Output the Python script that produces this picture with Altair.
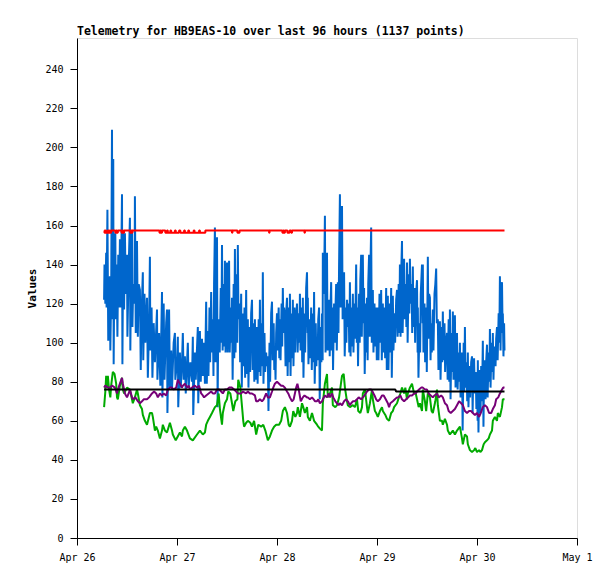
import altair as alt
import pandas as pd

TITLE = "Telemetry for HB9EAS-10 over last 96 hours (1137 points)"
BASE = pd.Timestamp("2023-04-26T00:00:00")

# hours since Apr 26 00:00 and values
blue_hours = [
 6.5,6.6,6.8,7.0,7.1,7.3,7.5,7.7,7.9,8.0,8.2,8.4,8.5,8.7,8.8,9.0,9.2,9.3,9.5,9.7,9.9,10.1,10.3,10.5,10.8,10.9,
 11.1,11.3,11.5,11.7,12.0,12.1,12.4,12.7,12.8,13.0,13.2,13.3,13.5,13.8,13.9,14.1,14.4,14.6,14.8,15.1,15.3,15.5,
 15.8,15.9,16.2,16.4,16.8,17.0,17.3,17.5,17.6,17.9,18.1,18.4,18.7,19.2,19.3,19.7,20.0,20.4,20.5,20.8,21.0,21.4,
 21.6,21.7,22.1,22.3,22.6,22.8,23.2,23.5,23.6,24.0,24.2,24.3,24.7,24.9,25.2,25.4,25.6,25.9,26.1,26.6,26.8,27.2,
 27.6,27.8,27.9,28.3,28.5,29.0,29.1,29.5,29.7,30.0,30.2,30.5,30.7,
 31.0,31.15,31.4,31.55,31.8,31.95,32.2,32.35,32.6,32.75,32.9,33.1,33.25,33.4,33.6,33.75,33.9,34.1,34.25,34.5,
 34.65,34.8,34.95,35.2,35.35,35.5,35.65,35.8,36.0,36.15,36.3,36.5,36.65,36.9,37.05,37.2,37.35,37.6,37.75,37.9,
 38.05,38.3,38.45,38.6,38.75,39.0,39.15,39.4,39.55,39.8,39.95,40.2,40.35,40.6,40.75,41.0,41.15,41.4,41.55,41.8,
 42.0,42.15,42.4,42.55,42.7,42.85,43.0,43.2,43.35,43.6,43.75,43.9,44.05,44.3,44.45,44.6,44.75,45.0,45.15,45.4,
 45.55,45.8,45.95,46.2,46.35,46.6,46.8,46.95,47.2,47.35,47.5,47.65,47.8,48.0,48.15,48.4,48.55,48.7,48.85,49.1,
 49.25,49.4,49.55,49.7,49.9,50.05,50.2,50.4,50.55,50.8,50.95,51.1,51.25,51.5,51.65,51.8,51.95,52.2,52.35,52.5,
 52.8,52.95,53.2,53.35,53.5,53.65,53.9,54.05,54.2,54.35,
 54.6,54.75,55.0,55.2,55.35,55.4,55.55,55.8,55.95,56.2,56.35,56.6,56.75,56.9,57.05,57.3,57.45,57.6,57.75,57.9,
 58.1,58.25,58.5,58.65,58.8,58.95,59.0,59.15,59.3,59.5,59.65,59.8,60.0,60.15,60.3,60.5,60.65,60.8,61.0,61.15,
 61.3,61.45,61.7,61.85,62.0,62.2,62.35,62.6,62.75,62.9,63.1,63.25,63.4,63.6,63.75,63.9,64.1,64.25,64.5,64.65,
 64.8,64.95,65.2,65.35,65.5,65.65,65.9,66.05,66.2,66.35,66.6,66.75,67.0,67.15,67.3,67.45,67.7,67.85,68.0,68.2,
 68.35,68.6,68.75,68.9,69.05,69.3,69.45,69.6,69.75,69.9,70.1,70.25,70.4,70.6,70.75,71.0,71.15,71.4,71.55,71.8,
 71.95,72.2,72.35,72.6,72.75,73.0,73.15,73.4,73.55,73.8,73.95,74.2,74.35,74.6,74.75,75.0,75.15,75.4,75.55,75.8,
 75.95,76.2,76.35,76.6,76.8,76.95,77.2,77.35,77.5,77.65,77.8,78.0,78.15,
 78.5,78.65,78.9,79.05,79.2,79.35,79.6,79.75,79.9,80.05,80.3,80.45,80.6,80.75,81.0,81.15,81.3,81.6,81.75,81.8,
 81.95,82.2,82.35,82.5,82.8,82.95,83.0,83.15,83.4,83.55,83.8,83.95,84.2,84.35,84.5,84.7,84.85,85.0,85.15,85.4,
 85.55,85.8,86.0,86.2,86.35,86.6,86.75,86.9,87.1,87.25,87.5,87.65,87.8,87.95,88.2,88.35,88.6,88.8,88.95,89.2,
 89.35,89.5,89.65,89.9,90.05,90.2,90.35,90.5,90.7,90.85,91.0,91.2,91.35,91.6,91.75,91.9,92.05,92.2,92.4,92.55,
 92.8,92.95,93.1,93.25,93.5,93.65,93.8,93.95,94.2,94.35,94.6,94.8,94.95,95.1,95.3,95.45,95.7,95.85,96.0,96.15,
 96.2,96.35,96.5,96.7,96.85,97.0,97.2,97.4,97.55,97.7,97.9,98.05,98.2,98.4,98.55,98.8,98.95,99.1,99.25,99.5,
 99.65,99.8,99.95,100.1,100.3,100.45,100.6,100.8,100.95,101.2,101.35,101.5,101.65,101.8,102.0,102.15,102.2,
 102.35,102.5,102.6]
blue_values = [
 122,140,120,146,118,168,101,130,134,96,125,209,112,194,89,150,156,112,140,103,145,118,153,118,176,89,
 157,117,156,125,145,103,138,164,96,140,157,108,130,120,175,105,152,103,130,127,86,115,
 136,91,125,100,123,82,110,144,96,118,82,110,90,117,81,105,78,126,72,120,81,110,
 117,64,117,77,96,76,100,105,81,90,103,67,95,77,90,105,81,93,74,100,77,90,
 80,103,63,95,81,108,69,106,80,102,83,100,79,
 121,79,106,83,118,90,126,95,112,83,130,159,90,120,154,67,108,112,95,128,
 100,150,96,130,98,142,95,120,141,95,125,142,95,118,100,123,81,130,92,148,
 95,135,100,150,112,120,90,125,77,115,88,118,82,127,84,112,77,108,85,115,
 122,86,110,80,112,81,100,108,79,112,85,122,83,110,88,136,79,105,85,95,
 88,93,65,100,80,115,121,91,110,86,96,81,105,115,96,118,92,112,91,120,
 98,128,105,118,112,88,115,123,83,118,90,125,83,115,92,122,88,118,95,110,
 120,95,115,100,125,96,118,90,123,82,
 115,95,128,136,105,123,89,112,92,118,86,115,90,126,79,110,88,103,91,112,
 118,71,108,90,115,91,146,125,130,165,95,125,146,96,118,122,93,115,131,96,
 118,86,120,100,115,130,96,131,105,140,176,118,135,170,112,128,136,93,118,100,
 122,108,120,95,131,93,118,98,125,95,120,102,140,100,118,88,125,100,132,145,
 103,145,110,128,84,120,95,123,91,130,145,103,135,159,100,127,95,120,98,118,
 91,118,91,125,100,127,91,120,95,118,92,128,86,124,86,120,95,128,82,124,
 96,115,100,122,127,103,130,105,140,103,135,152,105,
 143,112,130,108,141,100,135,115,143,120,130,105,139,108,128,100,122,132,95,118,
 82,110,95,125,140,110,140,95,120,90,118,85,144,102,125,123,91,110,95,117,
 96,125,130,138,110,112,86,105,111,81,108,90,116,91,110,85,100,105,81,112,
 80,117,71,105,85,116,81,100,114,77,98,105,76,95,80,100,72,90,95,55,
 100,75,108,77,90,70,95,67,88,72,90,93,64,85,92,74,85,66,83,60,
 91,54,80,86,64,88,70,101,57,85,91,71,90,99,72,95,80,107,77,100,
 85,105,81,95,98,88,102,108,91,115,100,134,96,120,131,105,115,
 93,110,96]

green_hours = [
 6.5,6.8,7.0,7.2,7.4,7.7,8.0,8.2,8.6,9.0,9.4,9.6,9.8,10.3,10.8,11.0,11.3,12.0,12.7,13.4,13.9,14.4,14.6,15.1,
 15.6,15.8,16.3,16.8,17.5,18.0,18.2,18.7,19.0,19.4,19.9,20.4,20.6,21.1,21.6,22.3,22.8,23.0,23.7,24.7,25.2,25.4,
 25.9,26.4,27.1,27.8,28.8,29.5,30.2,30.7,31.0,31.4,31.9,32.4,33.1,33.6,34.0,34.3,34.8,35.0,35.5,36.0,36.3,36.8,
 37.2,37.5,38.0,38.5,38.7,39.2,39.7,39.9,40.1,40.6,41.0,41.6,42.0,42.5,43.0,43.2,43.5,44.2,44.7,45.2,45.8,46.3,
 46.8,47.3,47.8,48.5,49.0,49.4,49.9,50.4,50.8,51.1,51.6,51.9,52.4,52.8,53.0,53.5,54.0,54.3,54.7,55.2,55.4,55.9,
 56.4,56.9,57.6,57.9,58.3,58.8,59.0,59.5,60.0,60.2,60.7,61.2,61.4,62.0,62.4,62.9,63.6,64.0,64.3,64.8,65.0,65.5,
 66.2,66.7,67.2,67.5,68.0,68.4,68.6,69.1,69.6,69.8,70.3,70.8,71.0,71.5,71.8,72.2,72.7,73.2,73.4,74.0,74.4,74.9,
 75.4,75.8,76.1,76.8,77.1,77.6,78.0,78.5,78.8,79.2,79.4,79.9,80.4,80.6,80.9,81.3,81.6,82.0,82.3,82.8,83.0,83.5,
 83.8,84.2,84.7,85.1,85.4,86.0,86.4,86.6,87.1,87.6,87.8,88.3,88.8,89.0,89.5,90.2,90.7,91.2,91.9,92.4,92.6,93.1,
 93.6,93.8,94.3,94.8,95.3,95.6,96.0,96.5,96.8,97.2,97.6,97.9,98.4,98.8,99.1,99.6,99.8,100.3,100.8,101.0,101.5,
 102.0,102.2,102.6]
green_values = [
 67,75,83,77,83,76,72,78,85,84,79,72,71,78,82,76,74,77,76,69,72,76,74,68,
 66,63,60,58,64,64,62,55,57,55,51,55,58,55,54,59,55,53,50,54,52,55,
 57,55,51,50,53,55,53,54,58,60,62,64,67,68,74,66,58,64,69,71,75,74,
 69,65,70,71,81,77,65,60,57,59,60,59,57,60,53,55,58,57,58,55,50,52,
 55,57,58,58,60,65,67,64,58,57,60,65,62,64,67,62,69,67,64,67,62,60,
 64,60,58,57,56,55,69,79,84,72,74,77,68,67,68,72,83,84,77,70,68,67,
 68,67,71,65,64,67,74,76,67,64,69,76,71,65,64,62,65,67,65,63,61,60,
 64,65,67,69,71,74,77,74,77,71,74,77,79,77,74,74,71,67,69,65,76,70,
 65,74,72,65,64,70,76,68,60,60,58,61,58,55,53,55,53,55,57,51,48,53,
 52,48,45,44,45,46,44,45,44,45,48,49,50,51,53,55,60,62,60,64,62,
 67,71,71]

purple_hours = [
 6.5,6.8,7.4,7.9,8.4,9.1,9.6,9.8,10.3,10.8,11.0,11.5,12.0,12.4,12.7,13.2,13.4,14.0,14.6,15.1,15.6,16.0,16.8,17.3,
 18.0,18.5,19.0,19.4,19.9,20.4,20.8,21.4,21.8,22.3,22.8,23.2,23.8,24.2,24.7,25.2,25.4,25.9,26.4,26.8,27.1,27.6,
 28.3,28.8,29.3,29.8,30.2,30.5,31.0,31.6,32.2,32.6,33.1,33.6,34.1,34.6,35.0,35.5,36.0,36.5,37.2,37.7,38.2,38.6,
 39.4,39.8,40.6,41.0,41.5,42.0,42.7,43.0,43.4,43.9,44.4,44.8,45.4,45.8,46.3,46.8,47.1,47.5,48.0,48.5,49.0,49.4,
 49.9,50.4,50.7,51.1,51.6,52.0,52.6,52.9,53.3,53.7,54.2,54.6,55.2,55.4,55.9,56.4,56.8,57.1,57.6,57.9,58.3,58.8,
 59.0,59.5,60.0,60.4,60.7,61.2,61.5,62.0,62.4,62.8,63.1,63.6,64.1,64.6,65.0,65.5,65.8,66.2,66.7,67.2,67.6,68.2,
 68.6,69.0,69.6,70.1,70.6,70.9,71.4,71.8,72.2,72.7,73.2,73.6,74.1,74.6,74.9,75.2,75.8,76.3,76.8,77.1,77.6,78.0,
 78.5,79.0,79.5,79.9,80.4,80.9,81.3,81.6,82.1,82.6,83.0,83.5,84.0,84.4,84.9,85.4,85.8,86.4,86.8,87.4,87.8,88.3,
 88.8,89.2,89.7,90.2,90.7,91.2,91.7,92.2,92.6,93.1,93.6,94.1,94.6,95.0,95.5,96.0,96.5,96.9,97.4,97.9,98.4,98.9,
 99.4,99.8,100.3,100.6,101.1,101.5,102.0,102.3,102.6]
purple_values = [
 77,78,77,77,78,77,74,76,79,82,79,74,72,74,76,72,71,72,70,69,70,71,71,72,
 74,75,74,72,74,73,74,73,76,77,77,76,77,81,79,77,78,79,77,78,76,77,
 78,77,78,74,73,72,73,74,75,74,74,76,76,75,74,76,76,77,77,76,75,74,
 74,75,74,75,74,74,73,70,70,71,70,71,74,72,72,75,77,79,80,79,78,78,
 77,75,74,72,70,71,77,79,75,70,72,73,72,72,71,72,71,70,70,71,69,70,
 71,73,72,74,72,74,72,70,69,68,69,68,70,71,70,68,69,70,70,71,72,71,
 72,73,75,76,76,75,73,71,70,71,73,73,71,69,67,69,70,71,72,72,73,71,
 70,71,72,73,73,74,74,75,76,77,77,76,76,74,73,72,73,74,72,73,72,69,
 68,65,64,65,66,68,70,69,68,65,64,65,65,64,63,64,62,64,67,68,67,64,
 64,66,68,71,72,74,76,77,77]

red_hours = [
 6.5,6.6,6.8,7.0,7.2,7.4,7.6,7.8,8.0,8.2,9.1,9.2,9.4,9.6,9.8,10.6,10.7,10.9,11.1,11.3,12.7,12.8,13.0,13.2,13.3,
 19.7,19.8,20.0,20.2,20.4,21.1,21.2,21.5,21.6,21.8,22.3,22.4,22.6,23.4,23.5,23.7,24.4,24.5,24.8,25.6,25.7,25.9,
 26.6,26.7,26.9,27.9,28.0,28.2,29.2,29.3,29.5,30.7,30.8,37.1,37.2,37.3,38.4,38.5,38.9,39.0,46.0,46.1,46.2,
 49.2,49.3,49.5,49.7,49.9,50.4,50.5,50.9,51.0,51.4,51.6,54.5,54.6,54.7,102.6]
red_values = [
 157.5,156.3,157.5,156.3,156.3,157.5,156.3,157.5,156.3,157.5,157.5,156.3,157.5,156.3,157.5,157.5,156.3,157.5,
 156.3,157.5,157.5,156.3,157.5,156.3,157.5,
 157.5,156.3,157.5,156.3,157.5,157.5,156.3,156.3,157.5,156.3,156.3,157.5,156.3,156.3,157.5,156.3,156.3,157.5,
 156.3,156.3,157.5,156.3,156.3,157.5,156.3,156.3,157.5,156.3,156.3,157.5,156.3,156.3,157.5,157.5,156.3,157.5,
 157.5,156.3,156.3,157.5,157.5,156.3,157.5,
 157.5,156.3,157.5,156.3,157.5,157.5,156.3,156.3,157.5,156.3,157.5,157.5,156.3,157.5,157.5]

black_hours = [6.5, 76.4, 76.6, 102.6]
black_values = [76, 76, 75, 75]

y_ticks = [0, 20, 40, 60, 80, 100, 120, 140, 160, 180, 200, 220, 240]


def frame(hours, values):
    ts = [(BASE + pd.Timedelta(hours=h)).strftime("%Y-%m-%dT%H:%M:%S") for h in hours]
    return pd.DataFrame({"time": ts, "value": values})


FONT = "DejaVu Sans Mono"

x_enc = alt.X(
    "time:T",
    scale=alt.Scale(domain=[alt.DateTime(year=2023, month=4, date=26),
                            alt.DateTime(year=2023, month=5, date=1)]),
    axis=alt.Axis(title=None, format="%b %-d", tickCount={"interval": "day", "step": 1},
                  labelFont=FONT, labelFontSize=10, labelColor="black",
                  tickSize=7, labelPadding=7, tickColor="black", domainColor="black",
                  grid=False, labelFlush=False),
)
y_enc = alt.Y(
    "value:Q",
    scale=alt.Scale(domain=[0, 256], nice=False),
    axis=alt.Axis(title="Values", values=y_ticks, labelFont=FONT, labelFontSize=10,
                  labelColor="black", titleFont=FONT, titleFontSize=11,
                  titleFontWeight="bold", titleColor="black", titlePadding=7,
                  tickSize=7, labelPadding=7, tickColor="black", domainColor="black",
                  grid=False),
)


def line(hours, values, color, interp="linear"):
    return alt.Chart(frame(hours, values)).mark_line(
        color=color, strokeWidth=2, interpolate=interp, strokeJoin="bevel"
    ).encode(x=x_enc, y=y_enc)


chart = alt.layer(
    line(blue_hours, blue_values, "#0066CC"),
    line(green_hours, green_values, "#00AA00"),
    line(purple_hours, purple_values, "#770077"),
    line(red_hours, red_values, "#FF0000", "step-after"),
    line(black_hours, black_values, "#000000"),
).properties(
    width=500,
    height=500,
    title=alt.TitleParams(TITLE, anchor="start", frame="group", font=FONT, fontSize=11.5,
                          fontWeight="bold", color="black", offset=1),
    autosize=alt.AutoSizeParams(type="none"),
    padding={"left": 69, "top": 30, "right": 30, "bottom": 33},
).configure_view(stroke="#444444", strokeWidth=1).configure(background="white")

chart.save("out.html", embed_options={"renderer": "svg", "actions": False})
